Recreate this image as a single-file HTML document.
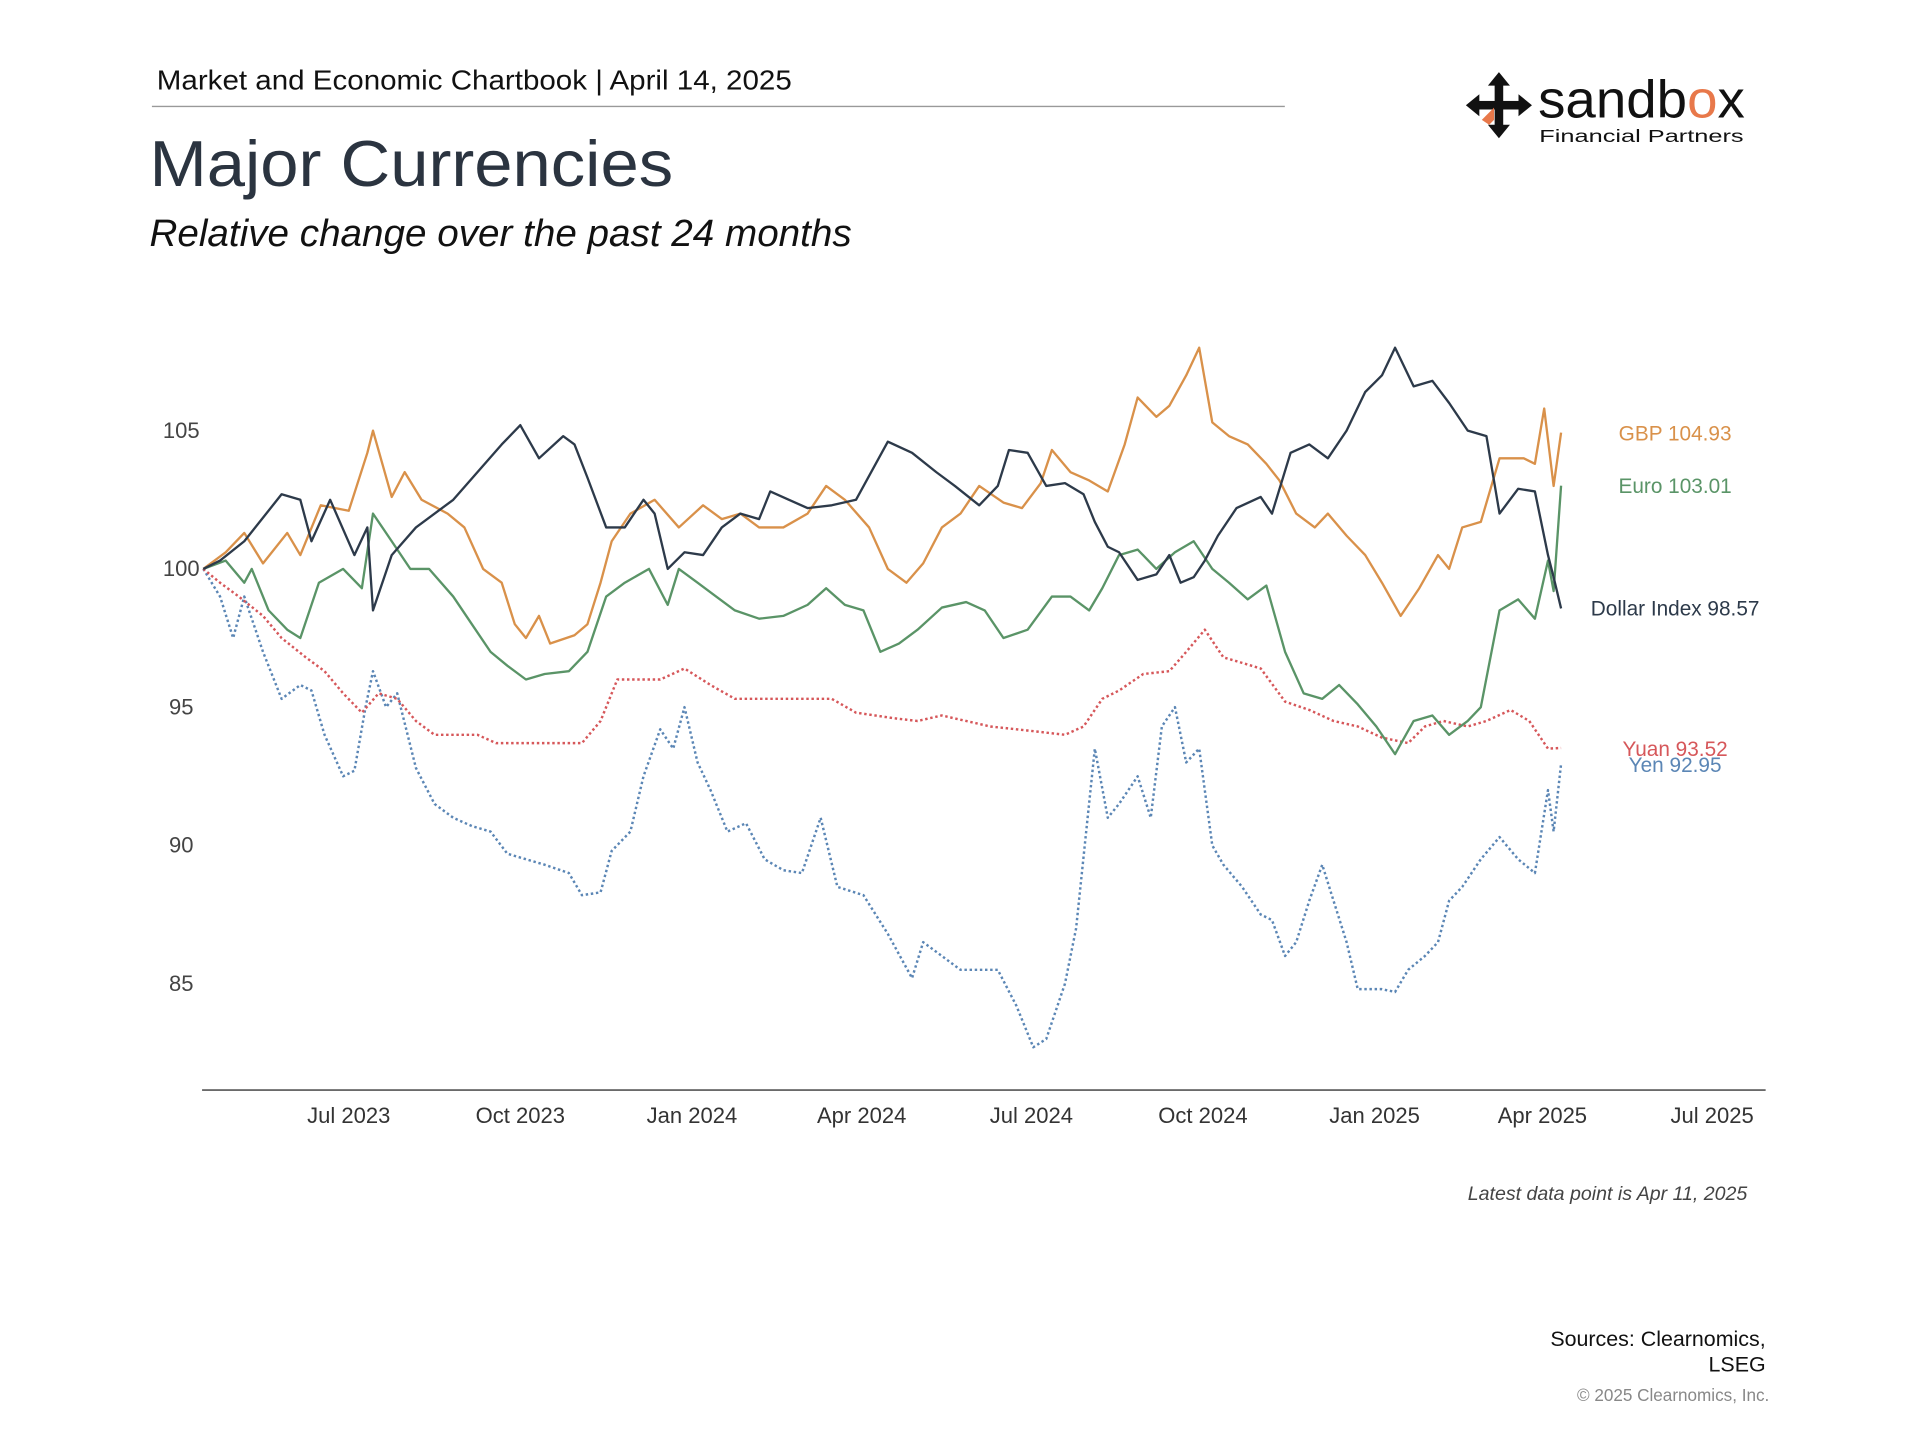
<!DOCTYPE html>
<html><head><meta charset="utf-8">
<style>
html,body{margin:0;padding:0;background:#fff;}
svg{display:block;}
text{font-family:"Liberation Sans",sans-serif;}
</style></head>
<body>
<svg id="chart" width="1920" height="1440" viewBox="0 0 1569 1177" xmlns="http://www.w3.org/2000/svg">
<rect width="1569" height="1177" fill="#fff"/>
<text x="128" y="73" font-size="23" fill="#111" textLength="519" lengthAdjust="spacingAndGlyphs">Market and Economic Chartbook | April 14, 2025</text>
<line x1="124" y1="87" x2="1050" y2="87" stroke="#999" stroke-width="1.2"/>
<text x="122" y="152" font-size="53" fill="#2b3440" textLength="428" lengthAdjust="spacingAndGlyphs">Major Currencies</text>
<text x="122" y="201" font-size="31" font-style="italic" fill="#111" textLength="574" lengthAdjust="spacingAndGlyphs">Relative change over the past 24 months</text>
<g>
  <g transform="translate(1225,86)" fill="#111">
    <rect x="-3.5" y="-20" width="7" height="40"/>
    <rect x="-20" y="-3.5" width="40" height="7"/>
    <polygon points="0,-27 -9,-16 9,-16"/>
    <polygon points="0,27 -9,16 9,16"/>
    <polygon points="-27,0 -16,-9 -16,9"/>
    <polygon points="27,0 16,-9 16,9"/>
    <polygon points="-14,12 -4,2 -4,12 -8,16" fill="#e8784a"/>
  </g>
  <text x="1257" y="96" font-size="43" fill="#111" textLength="169" lengthAdjust="spacingAndGlyphs">sandb<tspan fill="#e8784a">o</tspan>x</text>
  <text x="1258" y="116" font-size="14.5" fill="#111" textLength="167" lengthAdjust="spacingAndGlyphs">Financial Partners</text>
</g>
<g id="axes"></g>
<g id="series"></g>
<text x="1428" y="981" font-size="16" font-style="italic" fill="#444" text-anchor="end">Latest data point is Apr 11, 2025</text>
<text x="1443" y="1100" font-size="17.5" fill="#111" text-anchor="end">Sources: Clearnomics,</text>
<text x="1443" y="1121" font-size="17.5" fill="#111" text-anchor="end">LSEG</text>
<text x="1446" y="1145" font-size="14" fill="#888" text-anchor="end">© 2025 Clearnomics, Inc.</text>
</svg>
<script>
// data: days since Apr 14 2023, index values
const yTicks = [85, 90, 95, 100, 105];
const xTickLabels = ["Jul 2023","Oct 2023","Jan 2024","Apr 2024","Jul 2024","Oct 2024","Jan 2025","Apr 2025","Jul 2025"];
const xTickDays = [78,170,262,353,444,536,628,718,809];

const usdDays = [0,9,22,42,52,58,68,81,88,91,101,114,134,147,160,170,180,193,199,206,216,226,236,242,249,258,268,278,288,298,304,314,324,337,350,367,380,393,403,416,426,432,442,452,462,472,478,485,491,501,511,518,524,531,537,544,554,567,573,583,593,603,613,623,632,639,649,659,668,678,688,695,705,714,721,724,728];
const usdVals = [100,100.3,101,102.7,102.5,101,102.5,100.5,101.5,98.5,100.5,101.5,102.5,103.5,104.5,105.2,104,104.8,104.5,103.3,101.5,101.5,102.5,102,100,100.6,100.5,101.5,102,101.8,102.8,102.5,102.2,102.3,102.5,104.6,104.2,103.5,103,102.3,103,104.3,104.2,103,103.1,102.7,101.7,100.8,100.6,99.6,99.8,100.5,99.5,99.7,100.3,101.2,102.2,102.6,102,104.2,104.5,104,105,106.4,107,108,106.6,106.8,106,105,104.8,102,102.9,102.8,100.5,99.7,98.57];

const gbpDays = [0,12,22,32,45,52,63,78,88,91,101,108,117,131,140,150,160,167,173,180,186,199,206,213,219,229,242,255,268,278,288,298,311,324,334,344,357,367,377,386,396,406,416,429,439,449,455,465,475,485,494,501,511,518,527,534,541,550,560,570,577,586,596,603,613,623,632,642,652,662,668,675,685,695,708,714,719,724,728];
const gbpVals = [100,100.6,101.3,100.2,101.3,100.5,102.3,102.1,104.2,105,102.6,103.5,102.5,102,101.5,100,99.5,98,97.5,98.3,97.3,97.6,98,99.5,101,102,102.5,101.5,102.3,101.8,102,101.5,101.5,102,103,102.5,101.5,100,99.5,100.2,101.5,102,103,102.4,102.2,103.1,104.3,103.5,103.2,102.8,104.5,106.2,105.5,105.9,107,108,105.3,104.8,104.5,103.8,103.2,102,101.5,102,101.2,100.5,99.5,98.3,99.3,100.5,100,101.5,101.7,104,104,103.8,105.8,103,104.93];

const eurDays = [0,12,22,26,35,45,52,62,75,85,91,101,111,121,134,144,154,163,173,183,196,206,216,226,239,249,255,265,275,285,298,311,324,334,344,354,363,373,383,396,409,419,429,442,455,465,475,482,491,501,511,521,531,541,550,560,570,580,590,600,609,619,629,639,649,659,668,678,685,695,705,714,721,724,728];
const eurVals = [100,100.3,99.5,100,98.5,97.8,97.5,99.5,100,99.3,102,101,100,100,99,98,97,96.5,96,96.2,96.3,97,99,99.5,100,98.7,100,99.5,99,98.5,98.2,98.3,98.7,99.3,98.7,98.5,97,97.3,97.8,98.6,98.8,98.5,97.5,97.8,99,99,98.5,99.3,100.5,100.7,100,100.6,101,100,99.5,98.9,99.4,97,95.5,95.3,95.8,95.1,94.3,93.3,94.5,94.7,94,94.5,95,98.5,98.9,98.2,100.3,99.2,103.01];

const cnyDays = [0,9,19,32,42,55,65,75,85,94,104,114,124,137,147,157,173,193,203,213,222,232,245,258,272,285,304,324,337,350,370,383,396,409,422,436,449,462,472,482,491,504,518,527,537,547,557,567,580,593,606,619,632,646,655,665,678,688,701,711,721,728];
const cnyVals = [100,99.5,99,98.3,97.5,96.8,96.3,95.5,94.8,95.5,95.3,94.5,94,94,94,93.7,93.7,93.7,93.7,94.5,96,96,96,96.4,95.8,95.3,95.3,95.3,95.3,94.8,94.6,94.5,94.7,94.5,94.3,94.2,94.1,94,94.3,95.3,95.6,96.2,96.3,97,97.8,96.8,96.6,96.4,95.2,94.9,94.5,94.3,93.9,93.7,94.3,94.5,94.3,94.5,94.9,94.5,93.5,93.52];

const jpyDays = [0,9,16,22,32,42,52,58,65,75,81,87,91,98,104,114,124,134,144,154,163,173,183,196,203,213,219,229,236,245,252,258,265,272,281,291,301,311,321,331,340,354,367,380,386,396,406,416,426,436,445,452,462,468,478,485,491,501,508,514,521,527,534,541,547,557,567,573,580,586,593,600,606,613,619,632,639,646,655,662,668,675,685,695,705,714,721,724,728];
const jpyVals = [100,99,97.5,99,97,95.3,95.8,95.6,94,92.5,92.7,95,96.3,95,95.5,92.8,91.5,91,90.7,90.5,89.7,89.5,89.3,89,88.2,88.3,89.8,90.5,92.5,94.2,93.5,95,93,92,90.5,90.8,89.5,89.1,89,91,88.5,88.2,86.8,85.2,86.5,86,85.5,85.5,85.5,84.2,82.7,83,85,87,93.5,91,91.5,92.5,91,94.3,95,93,93.5,90,89.3,88.5,87.5,87.3,86,86.5,88,89.3,88,86.5,84.8,84.8,84.7,85.5,86,86.5,88,88.5,89.5,90.3,89.5,89,92,90.5,92.95];

const seriesNames = ["GBP","Euro","Dollar Index","Yuan","Yen"];

const NS = "http://www.w3.org/2000/svg";
function xScale(d){ return 166 + d * 1.5244; }
function yScale(v){ return 465 - (v - 100) * 22.6; }

const axes = document.getElementById('axes');
const ser = document.getElementById('series');

function mk(tag, attrs, parent){
  const e = document.createElementNS(NS, tag);
  for (const k in attrs) e.setAttribute(k, attrs[k]);
  parent.appendChild(e);
  return e;
}

const axisLine = mk('line', {x1:165, y1:891, x2:1443, y2:891, stroke:'#555', 'stroke-width':1.3}, axes);



yTicks.forEach(function(v){
  const t = mk('text', {x:148, y:yScale(v)+6, 'font-size':18, fill:'#444', 'text-anchor':'middle'}, axes);
  t.textContent = String(v);
  
  
});
xTickLabels.forEach(function(lab, i){
  const t = mk('text', {x:xScale(xTickDays[i]), y:918, 'font-size':18, fill:'#333', 'text-anchor':'middle'}, axes);
  t.textContent = lab;
  
  
});

function drawLine(days, vals, color, dashed, name){
  let d = '';
  for (let i = 0; i < days.length; i++){
    d += (i ? 'L' : 'M') + xScale(days[i]).toFixed(1) + ',' + yScale(vals[i]).toFixed(1);
  }
  const attrs = {d:d, fill:'none', stroke:color, 'stroke-width': dashed ? 2 : 1.9, 'stroke-linejoin':'round'};
  if (dashed) attrs['stroke-dasharray'] = '2 2.2';
  const p = mk('path', attrs, ser);
  
  
}
drawLine(jpyDays, jpyVals, '#5b86b5', true, 'yen-line');
drawLine(cnyDays, cnyVals, '#d6575a', true, 'yuan-line');
drawLine(eurDays, eurVals, '#5a9467', false, 'euro-line');
drawLine(gbpDays, gbpVals, '#d9914a', false, 'gbp-line');
drawLine(usdDays, usdVals, '#2d3a4a', false, 'dollar-index-line');

function label(text, x, y, color, name){
  const t = mk('text', {x:x, y:y, 'font-size':17, fill:color, 'text-anchor':'middle'}, ser);
  t.textContent = text;
  
  
}
label(seriesNames[0] + ' ' + gbpVals[gbpVals.length-1].toFixed(2), 1369, 360, '#d9914a', 'gbp-end-label');
label(seriesNames[1] + ' ' + eurVals[eurVals.length-1].toFixed(2), 1369, 403, '#5a9467', 'euro-end-label');
label(seriesNames[2] + ' ' + usdVals[usdVals.length-1].toFixed(2), 1369, 503, '#2d3a4a', 'dollar-end-label');
label(seriesNames[3] + ' ' + cnyVals[cnyVals.length-1].toFixed(2), 1369, 618, '#d6575a', 'yuan-end-label');
label(seriesNames[4] + ' ' + jpyVals[jpyVals.length-1].toFixed(2), 1369, 631, '#5b86b5', 'yen-end-label');
</script>
</body></html>
